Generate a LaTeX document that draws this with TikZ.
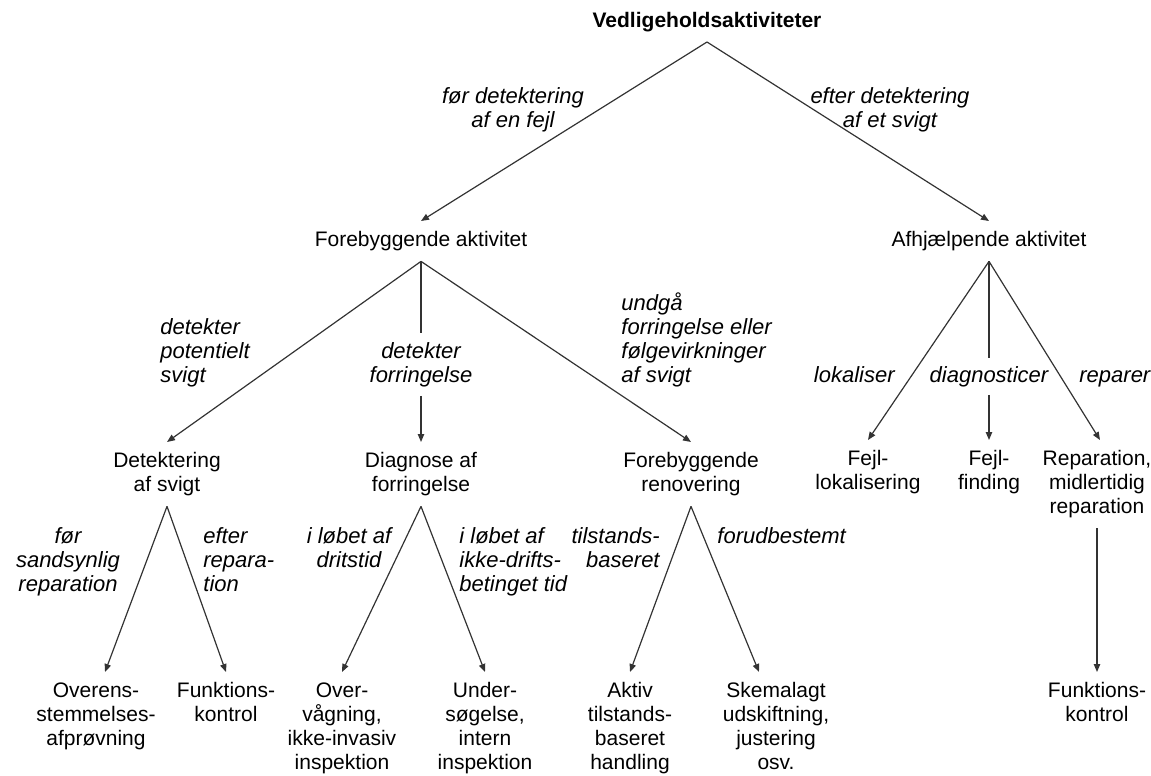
\documentclass[tikz,border=0pt]{standalone}
\usepackage{fontspec}
\setmainfont{Liberation Sans}
\usetikzlibrary{arrows.meta}
\newcommand{\fs}{\fontsize{10.5}{12}\selectfont}
\newcommand{\fsit}{\fontsize{11}{12}\selectfont\itshape}

\begin{document}
\begin{tikzpicture}[x=0.5pt, y=-0.5pt,
    box/.style={inner sep=5pt, align=center, font=\fs},
    lbl/.style={inner sep=0pt, font=\fsit},
    ln/.style={draw=black!80, line width=0.6pt},
    arr/.style={ln, -{Triangle[length=4pt,width=3.2pt]}}]
    \useasboundingbox (0,0) rectangle (1151,776);

    % activities
    \node[box, font=\fs\bfseries, anchor=south] (root) at (707,42) {Vedligeholdsaktiviteter};
    \node[box, anchor=north] (fore) at (421,221) {Forebyggende aktivitet};
    \node[box, anchor=north] (afhj) at (989,221) {Afhjælpende aktivitet};

    \node[box, anchor=north] (detek) at (167,442) {Detektering\\af svigt};
    \node[box, anchor=north] (diag) at (421,442) {Diagnose af\\forringelse};
    \node[box, anchor=north] (renov) at (691,442) {Forebyggende\\renovering};
    \node[box, anchor=north] (fejl1) at (868,440) {Fejl-\\lokalisering};
    \node[box, anchor=north] (fejl2) at (989,440) {Fejl-\\finding};
    \node[box, anchor=north] (repar) at (1097,440) {Reparation,\\midlertidig\\reparation};

    \node[box, anchor=north] (overens) at (96,672) {Overens-\\stemmelses-\\afprøvning};
    \node[box, anchor=north] (funk) at (226,672) {Funktions-\\kontrol};
    \node[box, anchor=north] (overv) at (342,672) {Over-\\vågning,\\ikke-invasiv\\inspektion};
    \node[box, anchor=north] (under) at (485,672) {Under-\\søgelse,\\intern\\inspektion};
    \node[box, anchor=north] (aktiv) at (630,672) {Aktiv\\tilstands-\\baseret\\handling};
    \node[box, anchor=north] (skema) at (776,672) {Skemalagt\\udskiftning,\\justering\\osv.};
    \node[box, anchor=north] (funk2) at (1097,672) {Funktions-\\kontrol};

    % labels on the branches (base = last line)
    \node[lbl, align=center, anchor=base] (lfore) at (513,127) {før detektering\\af en fejl};
    \node[lbl, align=center, anchor=base] (lafhj) at (890,127) {efter detektering\\af et svigt};

    \node[lbl, align=left, anchor=base west] (ldetek) at (160,382) {detekter\\potentielt\\svigt};
    \node[lbl, align=center, anchor=base, inner ysep=4.5pt] (ldiag) at (421,382) {detekter\\forringelse};
    \node[lbl, align=left, anchor=base west] (lrenov) at (621,382) {undgå\\forringelse eller\\følgevirkninger\\af svigt};
    \node[lbl, anchor=base east] (llok) at (895,382) {lokaliser};
    \node[lbl, anchor=base, inner ysep=4pt] (lfind) at (989,382) {diagnosticer};
    \node[lbl, anchor=base west] (lrep) at (1079,382) {reparer};

    \node[lbl, align=center, anchor=base] (lfoer) at (68,591) {før\\sandsynlig\\reparation};
    \node[lbl, align=left, anchor=base west] (lefter) at (203,591) {efter\\repara-\\tion};
    \node[lbl, align=center, anchor=base] (ldrift) at (349,567) {i løbet af\\dritstid};
    \node[lbl, align=left, anchor=base west] (likke) at (459,591) {i løbet af\\ikke-drifts-\\betinget tid};
    \node[lbl, align=right, anchor=base east] (ltilst) at (660,567) {tilstands-\\baseret};
    \node[lbl, anchor=base west] (lforud) at (717,543) {forudbestemt};

    % branches
    \draw[arr] (root.south) -- (fore.north);
    \draw[arr] (root.south) -- (afhj.north);

    \draw[arr] (fore.south) -- (detek.north);
    \draw[ln] (fore.south) -- (ldiag.north);
    \draw[arr] (ldiag.south) -- (diag.north);
    \draw[arr] (fore.south) -- (renov.north);

    \draw[arr] (afhj.south) -- (fejl1.north);
    \draw[ln] (afhj.south) -- (lfind.north);
    \draw[arr] (lfind.south) -- (fejl2.north);
    \draw[arr] (afhj.south) -- ([xshift=1.5pt]repar.north);
    \draw[arr] (repar.south) -- (funk2.north);

    \draw[arr] (detek.south) -- ([xshift=4.5pt]overens.north);
    \draw[arr] (detek.south) -- (funk.north);
    \draw[arr] (diag.south) -- (overv.north);
    \draw[arr] (diag.south) -- (under.north);
    \draw[arr] (renov.south) -- (aktiv.north);
    \draw[arr] (renov.south) -- ([xshift=-8.5pt]skema.north);
\end{tikzpicture}
\end{document}
